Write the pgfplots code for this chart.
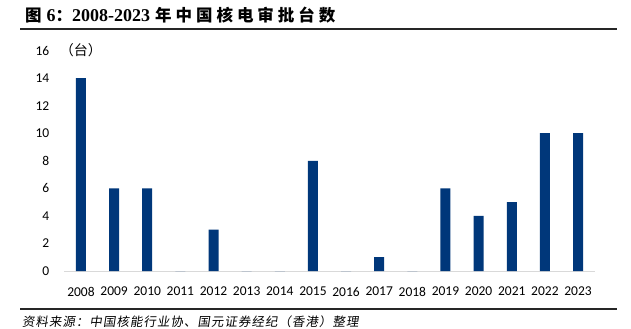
\documentclass[border=0pt]{standalone}
\usepackage{fontspec}
\setmainfont{Carlito}
\newfontfamily\cjk{Noto Sans CJK SC}
\newfontfamily\cjkt{Noto Sans CJK SC}[LetterSpace=24]
\newfontfamily\cjkf{Noto Sans CJK SC}[LetterSpace=8, FakeSlant=0.15]
\newfontfamily\serifb{Liberation Serif}
\usepackage{pgfplots}
\pgfplotsset{compat=1.18}
\definecolor{barblue}{RGB}{0,55,122}
\begin{document}
\begin{tikzpicture}[x=1bp,y=1bp]
\path[use as bounding box] (0,0) rectangle (631,328);
\node[anchor=base west, inner sep=0] at (25,307) {\fontsize{16.5bp}{18bp}\selectfont\bfseries\cjkt 图\kern5bp{\fontsize{18bp}{18bp}\selectfont\serifb 6}\cjkt ：{\fontsize{18bp}{18bp}\selectfont\serifb 2008-2023}\kern5bp\cjkt 年中国核电审批台数};
\draw[line width=2bp, black!85] (20,298.7) -- (617,298.7);
\draw[line width=1.5bp, black!85] (20,19) -- (617,19);
\node[anchor=west, inner sep=0] at (22,6) {\fontsize{12.5bp}{14bp}\selectfont\cjkf 资料来源：中国核能行业协、国元证券经纪（香港）整理};
\begin{axis}[
  at={(64.4bp,57bp)}, anchor=south west,
  width=530.2bp, height=220.5bp, scale only axis,
  xmin=-0.5, xmax=15.5, ymin=0, ymax=16,
  ytick={0,2,...,16},
  xtick={0,...,15},
  xticklabels={2008,2009,2010,2011,2012,2013,2014,2015,2016,2017,2018,2019,2020,2021,2022,2023},
  major tick length=0pt,
  axis x line*=bottom, axis y line*=left,
  x axis line style={draw=black!15, line width=1bp, -},
  y axis line style={draw=none},
  /pgf/number format/assume math mode=true,
  ticklabel style={font=\fontsize{13.5bp}{15bp}\selectfont},
  yticklabel style={anchor=east, inner sep=0pt, xshift=-15bp},
  xticklabel style={anchor=north, inner sep=0pt, yshift=-16bp},
  clip=false,
]
\addplot[ybar, bar width=10bp, bar shift=0pt, fill=barblue, draw=none] coordinates {
(0,14) (1,6) (2,6) (3,0) (4,3) (5,0) (6,0) (7,8) (8,0) (9,1) (10,0) (11,6) (12,4) (13,5) (14,10) (15,10)
};
\node[anchor=center, inner sep=0] at (axis cs:0,16) {\fontsize{14bp}{15bp}\selectfont\cjk （台）};
\end{axis}
\end{tikzpicture}
\end{document}
